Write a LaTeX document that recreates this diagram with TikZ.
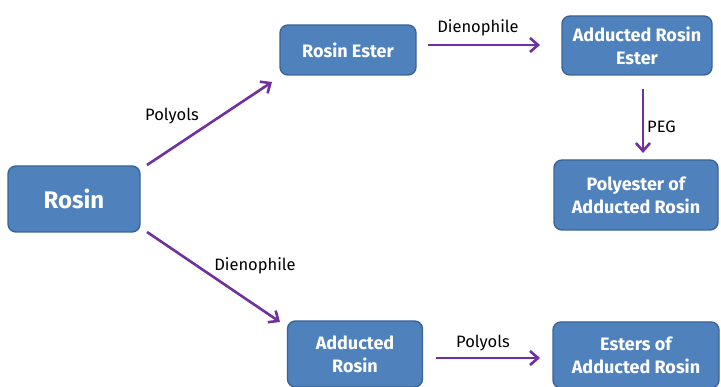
\documentclass[tikz,border=0pt]{standalone}
\usepackage{fontspec}
\setmainfont{Fira Sans}
\usetikzlibrary{arrows.meta}
\definecolor{boxfill}{HTML}{4F81BD}
\definecolor{boxline}{HTML}{3A6496}
\definecolor{arr}{HTML}{7030A0}
\begin{document}
\begin{tikzpicture}[x=1pt,y=-1pt,
  box/.style={draw=boxline,line width=1.4pt,fill=boxfill,rounded corners=8pt,
    text=white,font=\fontsize{18}{23}\selectfont\bfseries,align=center,
    inner sep=0pt},
  arrow/.style={draw=arr,line width=2.6pt,-{Straight Barb[length=8pt,width=14pt,line width=2.6pt]}},
  lab/.style={font=\fontsize{16.5}{19}\selectfont,text=black,inner sep=1pt}]
\useasboundingbox (0,0) rectangle (721,387);
\node[box,minimum width=132pt,minimum height=66pt,font=\fontsize{24}{28}\selectfont\bfseries] (rosin) at (74,199) {Rosin};
\node[box,minimum width=136pt,minimum height=50pt] (rester) at (348,50) {Rosin Ester};
\node[box,minimum width=150pt,minimum height=59pt] (arester) at (637,45.5) {Adducted Rosin\\Ester};
\node[box,minimum width=164pt,minimum height=70pt] (poly) at (636,195) {Polyester of\\Adducted Rosin};
\node[box,minimum width=135pt,minimum height=66pt] (arosin) at (355,354) {Adducted\\Rosin};
\node[box,minimum width=166pt,minimum height=66pt] (esters) at (636,355) {Esters of\\Adducted Rosin};
\coordinate (a1s) at (147,165); \coordinate (a1e) at (272,82);
\coordinate (a2s) at (147,232); \coordinate (a2e) at (280,322);
\draw[arrow] (a1s) -- (a1e);
\draw[arrow] (a2s) -- (a2e);
\draw[arrow] (428,45) -- (540,45);
\draw[arrow] (643,89) -- (643,153);
\draw[arrow] (436,358) -- (540,358);
\node[lab] (l1) at (172,116) {Polyols};
\node[lab] (l2) at (255,266) {Dienophile};
\node[lab] (l3) at (478,28) {Dienophile};
\node[lab,anchor=west] (l4) at (646,127) {PEG};
\node[lab] (l5) at (483,343) {Polyols};
\end{tikzpicture}
\end{document}
